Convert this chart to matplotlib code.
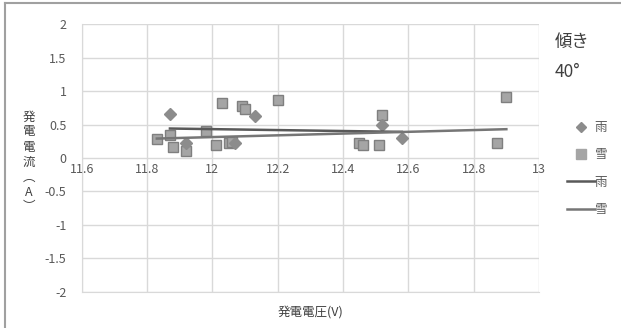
import numpy as np
import matplotlib
matplotlib.use("Agg")
import matplotlib.pyplot as plt
from matplotlib.lines import Line2D

plt.rcParams['font.family'] = ['Noto Sans CJK JP', 'DejaVu Sans']

# 雨 (rain) measurements: voltage, current
rain_v = [11.87, 11.92, 12.07, 12.13, 12.52, 12.58]
rain_i = [0.65, 0.23, 0.22, 0.63, 0.50, 0.30]

# 雪 (snow) measurements
snow_v = [11.83, 11.87, 11.88, 11.92, 11.98, 12.01, 12.03, 12.05, 12.06,
          12.09, 12.10, 12.20, 12.45, 12.46, 12.51, 12.52, 12.87, 12.90]
snow_i = [0.29, 0.35, 0.17, 0.10, 0.40, 0.19, 0.82, 0.23, 0.24,
          0.78, 0.73, 0.86, 0.22, 0.20, 0.20, 0.64, 0.22, 0.915]

# linear trend lines (end points)
rain_trend_v = [11.87, 12.58]
rain_trend_i = [0.44, 0.39]
snow_trend_v = [11.83, 12.90]
snow_trend_i = [0.29, 0.43]

xticks = [11.6, 11.8, 12, 12.2, 12.4, 12.6, 12.8, 13]
yticks = [-2, -1.5, -1, -0.5, 0, 0.5, 1, 1.5, 2]

fig = plt.figure(figsize=(6.21, 3.28), dpi=100)
ax = fig.add_axes([0.1316, 0.1098, 0.7364, 0.817])

grid_c = "#d9d9d9"
ax.set_xlim(11.6, 13)
ax.set_ylim(-2, 2)
ax.set_xticks(xticks)
ax.set_yticks(yticks)
ax.grid(True, color=grid_c, linewidth=1)
ax.set_axisbelow(True)
for s in ax.spines.values():
    s.set_visible(False)
ax.spines['left'].set_visible(True)
ax.spines['left'].set_color(grid_c)
ax.spines['bottom'].set_visible(True)
ax.spines['bottom'].set_color(grid_c)
ax.tick_params(length=0, labelsize=9, labelcolor="#595959")
ax.set_xticklabels([])
ax.set_yticklabels([("%g" % t) for t in yticks])
ax.tick_params(axis='y', pad=11)

# x labels sit under the zero line
for t in xticks:
    ax.text(t, -0.08, "%g" % t, ha='center', va='top', fontsize=9,
            color="#595959")

# scatter points
ax.plot(snow_v, snow_i, linestyle='none', marker='s', markersize=7,
        markerfacecolor="#a5a5a5", markeredgecolor="#7f7f7f",
        markeredgewidth=1, zorder=3)
ax.plot(rain_v, rain_i, linestyle='none', marker='D', markersize=6,
        markerfacecolor="#8c8c8c", markeredgecolor="#8c8c8c", zorder=4)

ax.plot(rain_trend_v, rain_trend_i, color="#595959", linewidth=1.8, zorder=5)
ax.plot(snow_trend_v, snow_trend_i, color="#767676", linewidth=1.8, zorder=5)

ax.set_xlabel("発電電圧(V)", fontsize=9, color="#404040", labelpad=6)

# vertical stacked y label
ylab = ["発", "電", "電", "流", "︵", "A", "︶"]
for k, ch in enumerate(ylab):
    fig.text(29 / 621, 1 - (117 + k * 15) / 328, ch, ha='center',
             va='center', fontsize=9, color="#404040")

fig.text(555 / 621, 1 - 42 / 328, "傾き", ha='left', va='center',
         fontsize=12.5, color="#404040")
fig.text(555 / 621, 1 - 72 / 328, "40°", ha='left', va='center',
         fontsize=12.5, color="#404040")

handles = [
    Line2D([], [], linestyle='none', marker='D', markersize=5,
           markerfacecolor="#8c8c8c", markeredgecolor="#8c8c8c"),
    Line2D([], [], linestyle='none', marker='s', markersize=7,
           markerfacecolor="#a5a5a5", markeredgecolor="#a5a5a5"),
    Line2D([], [], color="#595959", linewidth=1.8),
    Line2D([], [], color="#767676", linewidth=1.8),
]
fig.legend(handles, ["雨", "雪", "雨", "雪"], loc='center left',
           bbox_to_anchor=(0.905, 1 - 168.5 / 328), frameon=False,
           fontsize=9, labelcolor="#595959", handlelength=2.2,
           handletextpad=0.0, labelspacing=1.15, borderaxespad=0)

# chart border
fig.add_artist(Line2D([4.5 / 621, 4.5 / 621], [0, 1 - 3 / 328],
                      transform=fig.transFigure, color="#a0a0a0",
                      linewidth=1.5))
fig.add_artist(Line2D([4.5 / 621, 1], [1 - 3 / 328, 1 - 3 / 328],
                      transform=fig.transFigure, color="#a0a0a0",
                      linewidth=1.5))

fig.savefig("out.png", dpi=100)
